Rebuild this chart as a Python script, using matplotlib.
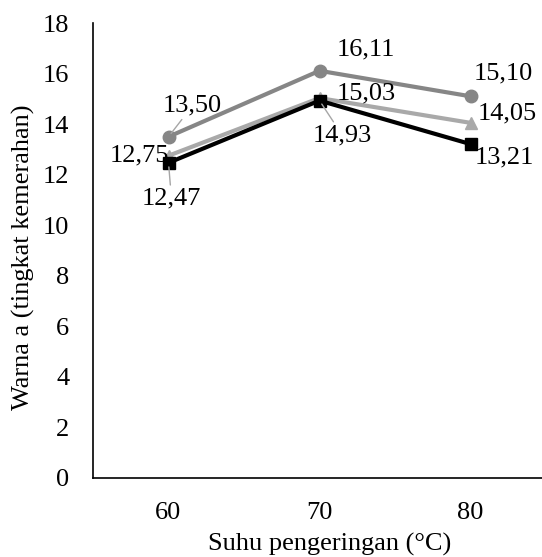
import matplotlib
matplotlib.use("Agg")
import matplotlib.pyplot as plt

categories = ["60", "70", "80"]
series_circle = [13.50, 16.11, 15.10]
series_triangle = [12.75, 15.03, 14.05]
series_square = [12.47, 14.93, 13.21]
yticks = [0, 2, 4, 6, 8, 10, 12, 14, 16, 18]

plt.rcParams['font.family'] = ['Liberation Serif', 'DejaVu Serif']
FS = 19

fig = plt.figure(figsize=(5.42, 5.57), dpi=100)
W, H = 542, 557
left, right, top, bottom = 93, 546, 23, 478
ax = fig.add_axes([left / W, 1 - bottom / H, (right - left) / W, (bottom - top) / H])

x = list(range(len(categories)))
specs = [
    (series_circle, '#868686', 'o', 9),
    (series_triangle, '#A9A9A9', '^', 9),
    (series_square, '#000000', 's', 9),
]
for vals, col, mk, ms in specs:
    ax.plot(x, vals, color=col, lw=3, marker=mk, ms=ms, zorder=3)

# label offsets in pixels (dx, dy), and whether a leader line is drawn
offsets = [
    [(24, 31), (46, 21), (33, 23)],
    [(-29, 0), (47, 5), (37, 9)],
    [(3, -36), (23, -35), (34, -13)],
]
leaders = [
    [True, False, False],
    [False, False, False],
    [True, True, False],
]
series = [series_circle, series_triangle, series_square]
for s, vals in enumerate(series):
    for i, v in enumerate(vals):
        txt = f"{v:.2f}".replace('.', ',')
        kw = {}
        if leaders[s][i]:
            kw['arrowprops'] = dict(arrowstyle='-', color='#A6A6A6', lw=1,
                                    shrinkA=0, shrinkB=3)
        ax.annotate(txt, xy=(i, v), xytext=offsets[s][i], textcoords='offset pixels',
                    ha='center', va='center', fontsize=FS, color='black', zorder=4, **kw)

ax.set_xlim(-0.5, len(categories) - 0.5)
ax.set_ylim(0, 18)
ax.set_xticks(x)
ax.set_xticklabels(categories)
ax.set_yticks(yticks)
ax.tick_params(axis='both', length=0, labelsize=FS)
ax.tick_params(axis='x', pad=17)
ax.tick_params(axis='y', pad=17)
for sp in ['top', 'right']:
    ax.spines[sp].set_visible(False)
for sp in ['left', 'bottom']:
    ax.spines[sp].set_linewidth(1.2)
    ax.spines[sp].set_color('black')

ax.set_xlabel("Suhu pengeringan (°C)", fontsize=FS)
ax.set_ylabel("Warna a (tingkat kemerahan)", fontsize=FS)
ax.xaxis.set_label_coords((330 - left) / (right - left), -(533 - bottom) / (bottom - top))
ax.yaxis.set_label_coords((35 - left) / (right - left), (bottom - 257) / (bottom - top))

fig.savefig("out.png", dpi=100)
